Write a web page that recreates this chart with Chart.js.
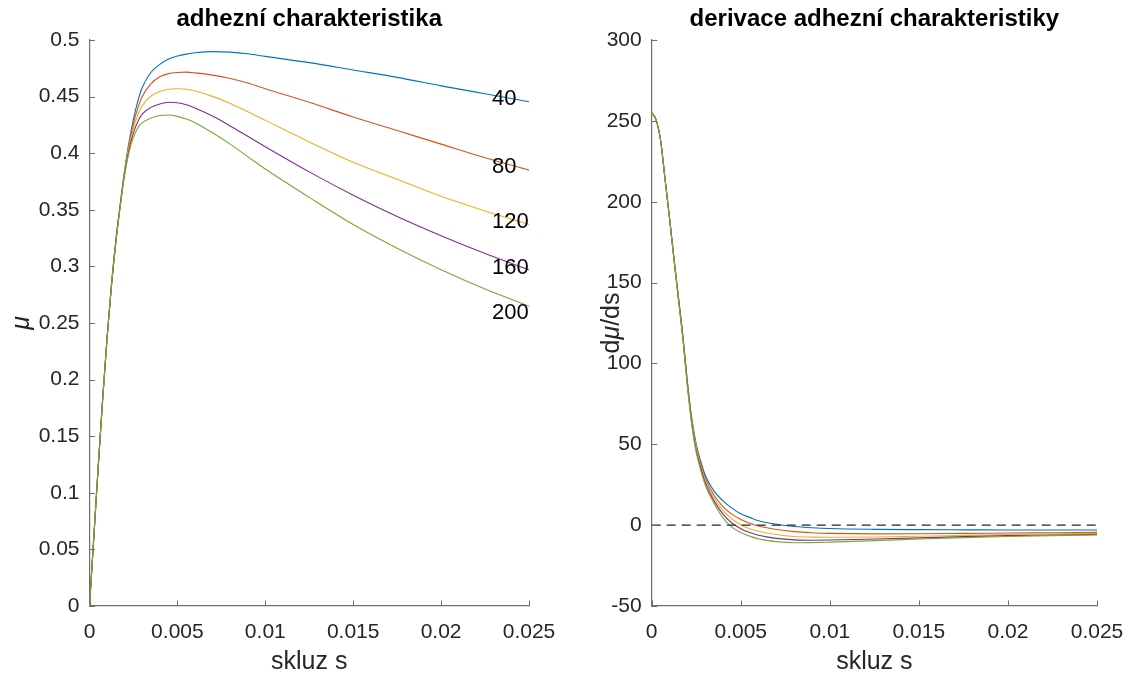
<!DOCTYPE html>
<html>
<head>
<meta charset="utf-8">
<script src="https://cdn.jsdelivr.net/npm/chart.js@4.4.0/dist/chart.umd.min.js"></script>
<style>
  html, body { margin: 0; padding: 0; background: #fff; overflow: hidden; }
  #wrap { position: relative; width: 1129px; height: 675px; overflow: hidden; }
  canvas { position: absolute; top: 0; }
</style>
</head>
<body>
<div id="wrap">
  <canvas id="c_mu" width="575" height="675" style="left:0px"></canvas>
  <canvas id="c_dmu" width="578" height="675" style="left:565px"></canvas>
</div>
<script>
// skluz s (slip) sample points, shared by both plots
const s_vals = [0, 0.00025, 0.0005, 0.00075, 0.001, 0.00125, 0.0015, 0.00175, 0.002, 0.00225,
  0.0025, 0.00275, 0.003, 0.0035, 0.004, 0.0045, 0.005, 0.0055, 0.006, 0.007,
  0.008, 0.009, 0.01, 0.0125, 0.015, 0.0175, 0.02, 0.0225, 0.025];

const series_names = ['40', '80', '120', '160', '200'];

// adhezni charakteristika mu(s)
const mu_40 = [0, 0.062, 0.124, 0.183, 0.237, 0.284, 0.323, 0.355, 0.385, 0.410,
  0.430, 0.446, 0.458, 0.4715, 0.4785, 0.4832, 0.4858, 0.4875, 0.4887, 0.4897,
  0.4893, 0.4878, 0.4855, 0.480, 0.4735, 0.467, 0.4595, 0.4525, 0.4455];
const mu_80 = [0, 0.062, 0.124, 0.183, 0.237, 0.284, 0.323, 0.355, 0.384, 0.408,
  0.426, 0.440, 0.450, 0.4615, 0.4675, 0.4703, 0.4713, 0.4716, 0.471, 0.469,
  0.466, 0.462, 0.457, 0.445, 0.432, 0.420, 0.408, 0.396, 0.385];
const mu_120 = [0, 0.062, 0.124, 0.183, 0.237, 0.284, 0.322, 0.354, 0.383, 0.406,
  0.422, 0.434, 0.442, 0.4505, 0.4545, 0.4565, 0.457, 0.4565, 0.455, 0.4502,
  0.4438, 0.4366, 0.429, 0.410, 0.392, 0.377, 0.362, 0.349, 0.337];
const mu_160 = [0, 0.062, 0.124, 0.183, 0.237, 0.283, 0.322, 0.354, 0.382, 0.403,
  0.418, 0.428, 0.4345, 0.4405, 0.4435, 0.445, 0.4445, 0.4428, 0.440, 0.4328,
  0.4241, 0.4149, 0.4057, 0.3835, 0.3629, 0.3441, 0.3271, 0.3114, 0.297];
const mu_200 = [0, 0.062, 0.124, 0.183, 0.237, 0.283, 0.321, 0.353, 0.381, 0.401,
  0.414, 0.4225, 0.427, 0.431, 0.4333, 0.4338, 0.4325, 0.4302, 0.427, 0.418,
  0.408, 0.397, 0.386, 0.361, 0.337, 0.316, 0.297, 0.280, 0.265];

// derivace dmu/ds
const dmu_40 = [255, 250.5, 238, 214, 190, 165, 141, 117, 89, 66,
  50, 39.5, 31, 21, 15, 10.5, 7, 4.8, 2.7, 0.6,
  -0.8, -1.6, -2.1, -2.6, -2.8, -2.9, -3, -3, -3];
const dmu_80 = [255, 250.5, 238, 214, 190, 165, 141, 117, 89, 65,
  49, 38, 29.5, 18.5, 11.5, 6.8, 3.5, 1.2, -0.5, -2.7,
  -4, -4.7, -5.1, -5.4, -5.3, -5.1, -4.9, -4.7, -4.5];
const dmu_120 = [255, 250.5, 238, 214, 190, 165, 140.5, 116.5, 88, 64,
  47.5, 36.5, 28, 16.8, 9, 3.8, 0.3, -2.2, -3.8, -5.8,
  -7, -7.4, -7.5, -7.3, -6.9, -6.3, -5.8, -5.4, -5.1];
const dmu_160 = [255, 250.5, 238, 214, 190, 164.5, 140, 116, 87, 63,
  46, 35.5, 26.5, 15, 6.8, 1.3, -2.2, -4.6, -6.3, -8.2,
  -9.1, -9.3, -9.2, -8.6, -7.9, -7.1, -6.5, -6.1, -5.7];
const dmu_200 = [255, 250.5, 238, 214, 189.5, 164, 139.5, 115, 86, 62,
  45, 34, 25, 13.5, 4.5, -1.2, -4.5, -6.8, -8.5, -10.2,
  -10.9, -10.8, -10.5, -9.6, -8.6, -7.7, -7, -6.5, -6.1];

// dashed zero line in the derivative plot
const zero_x = [0, 0.025];
const zero_y = [0, 0];

// text labels next to the curve ends (data coords)
const curve_label_s = 0.0229;
const curve_label_mu = [0.448, 0.388, 0.339, 0.299, 0.259];

// tick values
const s_ticks = [0, 0.005, 0.01, 0.015, 0.02, 0.025];
const mu_ticks = [0, 0.05, 0.1, 0.15, 0.2, 0.25, 0.3, 0.35, 0.4, 0.45, 0.5];
const dmu_ticks = [-50, 0, 50, 100, 150, 200, 250, 300];

const LINE_COLORS = ['#0072BD', '#D95319', '#EDB120', '#7E2F8E', '#77AC30'];
const FONT = 'Liberation Sans, Arial, Helvetica, sans-serif';
const TEXT_COLOR = '#262626';
const AXIS_COLOR = '#6e6e6e';
const TICK_SIZE = 21;
const LABEL_SIZE = 25;
const TITLE_SIZE = 24;

function to_points( xs, ys ) {
  return xs.map( ( x, i ) => ( { x: x, y: ys[ i ] } ) );
}

function make_datasets( series_list ) {
  return series_list.map( ( ys, i ) => {
    return {
      label: series_names[ i ],
      data: to_points( s_vals, ys ),
      borderColor: LINE_COLORS[ i ],
      borderWidth: 1.1,
      pointRadius: 0,
      fill: false,
      cubicInterpolationMode: 'monotone',
      order: 4 - i   // last series on top, like matlab
    };
  } );
}

// draws matlab-ish stuff: inward ticks, titles, axis labels, curve labels
const matlab_axes = {
  id: 'matlab_axes',
  afterDraw( chart, args, opts ) {
    const ctx = chart.ctx;
    const area = chart.chartArea;
    const xs = chart.scales.x;
    const ys = chart.scales.y;
    const tick_len = 5.5;

    ctx.save();
    ctx.strokeStyle = AXIS_COLOR;
    ctx.lineWidth = 1;
    ctx.beginPath();
    ys.ticks.forEach( t => {
      const py = Math.round( ys.getPixelForValue( t.value ) ) + 0.5;
      ctx.moveTo( area.left, py );
      ctx.lineTo( area.left + tick_len, py );
    } );
    xs.ticks.forEach( t => {
      const px = Math.round( xs.getPixelForValue( t.value ) ) + 0.5;
      ctx.moveTo( px, area.bottom );
      ctx.lineTo( px, area.bottom - tick_len );
    } );
    ctx.stroke();

    const cx = ( area.left + area.right ) / 2;

    // title
    ctx.fillStyle = '#000';
    ctx.font = 'bold ' + TITLE_SIZE + 'px ' + FONT;
    ctx.textAlign = 'center';
    ctx.textBaseline = 'middle';
    ctx.fillText( opts.title, cx, 19 );

    // x label
    ctx.fillStyle = TEXT_COLOR;
    ctx.font = LABEL_SIZE + 'px ' + FONT;
    ctx.fillText( opts.xlabel, cx, 662 );

    // y label (rotated), parts: [text, italic]
    ctx.save();
    ctx.translate( opts.ylabel_x, ( area.top + area.bottom ) / 2 );
    ctx.rotate( -Math.PI / 2 );
    let total = 0;
    const widths = opts.ylabel.map( p => {
      ctx.font = ( p[ 1 ] ? 'italic ' : '' ) + LABEL_SIZE + 'px ' + FONT;
      const w = ctx.measureText( p[ 0 ] ).width;
      total += w;
      return w;
    } );
    let pos = -total / 2;
    ctx.textAlign = 'left';
    opts.ylabel.forEach( ( p, i ) => {
      ctx.font = ( p[ 1 ] ? 'italic ' : '' ) + LABEL_SIZE + 'px ' + FONT;
      ctx.fillText( p[ 0 ], pos, 0 );
      pos += widths[ i ];
    } );
    ctx.restore();

    // labels next to curves
    if ( opts.curve_labels ) {
      ctx.fillStyle = '#000';
      ctx.font = '22px ' + FONT;
      ctx.textAlign = 'left';
      ctx.textBaseline = 'middle';
      series_names.forEach( ( name, i ) => {
        ctx.fillText( name, xs.getPixelForValue( curve_label_s ), ys.getPixelForValue( curve_label_mu[ i ] ) );
      } );
    }
    ctx.restore();
  }
};

function make_options( y_min, y_max, y_ticks, y_width, pad_right, plugin_opts ) {
  return {
    responsive: false,
    animation: false,
    devicePixelRatio: 1,
    layout: { padding: { top: 40, right: pad_right, left: 0, bottom: 0 } },
    plugins: {
      legend: { display: false },
      tooltip: { enabled: false },
      title: { display: false },
      matlab_axes: plugin_opts
    },
    scales: {
      x: {
        type: 'linear',
        min: 0,
        max: 0.025,
        grid: { display: false, drawTicks: false },
        border: { display: true, color: AXIS_COLOR, width: 1.2 },
        afterBuildTicks: scale => { scale.ticks = s_ticks.map( v => ( { value: v } ) ); },
        afterFit: scale => { scale.height = 69; },
        ticks: {
          color: TEXT_COLOR,
          font: { family: FONT, size: TICK_SIZE },
          padding: 14,
          maxRotation: 0,
          callback: v => String( v )
        }
      },
      y: {
        type: 'linear',
        min: y_min,
        max: y_max,
        grid: { display: false, drawTicks: false },
        border: { display: true, color: AXIS_COLOR, width: 1.2 },
        afterBuildTicks: scale => { scale.ticks = y_ticks.map( v => ( { value: v } ) ); },
        afterFit: scale => { scale.width = y_width; },
        ticks: {
          color: TEXT_COLOR,
          font: { family: FONT, size: TICK_SIZE },
          padding: 10,
          callback: v => String( v )
        }
      }
    }
  };
}

function create_mu_chart() {
  const ctx = document.getElementById( 'c_mu' ).getContext( '2d' );
  return new Chart( ctx, {
    type: 'line',
    data: { datasets: make_datasets( [ mu_40, mu_80, mu_120, mu_160, mu_200 ] ) },
    options: make_options( 0, 0.5, mu_ticks, 89.5, 46, {
      title: 'adhezní charakteristika',
      xlabel: 'skluz s',
      ylabel: [ [ 'μ', true ] ],
      ylabel_x: 22,
      curve_labels: true
    } ),
    plugins: [ matlab_axes ]
  } );
}

function create_dmu_chart() {
  const ctx = document.getElementById( 'c_dmu' ).getContext( '2d' );
  const datasets = make_datasets( [ dmu_40, dmu_80, dmu_120, dmu_160, dmu_200 ] );
  datasets.push( {
    label: 'zero',
    data: to_points( zero_x, zero_y ),
    borderColor: '#262626',
    borderWidth: 1.1,
    borderDash: [ 9, 6 ],
    pointRadius: 0,
    fill: false,
    order: -1
  } );
  return new Chart( ctx, {
    type: 'line',
    data: { datasets: datasets },
    options: make_options( -50, 300, dmu_ticks, 86.7, 46, {
      title: 'derivace adhezní charakteristiky',
      xlabel: 'skluz s',
      ylabel: [ [ 'd', false ], [ 'μ', true ], [ '/ds', false ] ],
      ylabel_x: 47,
      curve_labels: false
    } ),
    plugins: [ matlab_axes ]
  } );
}

create_mu_chart();
create_dmu_chart();
</script>
</body>
</html>
